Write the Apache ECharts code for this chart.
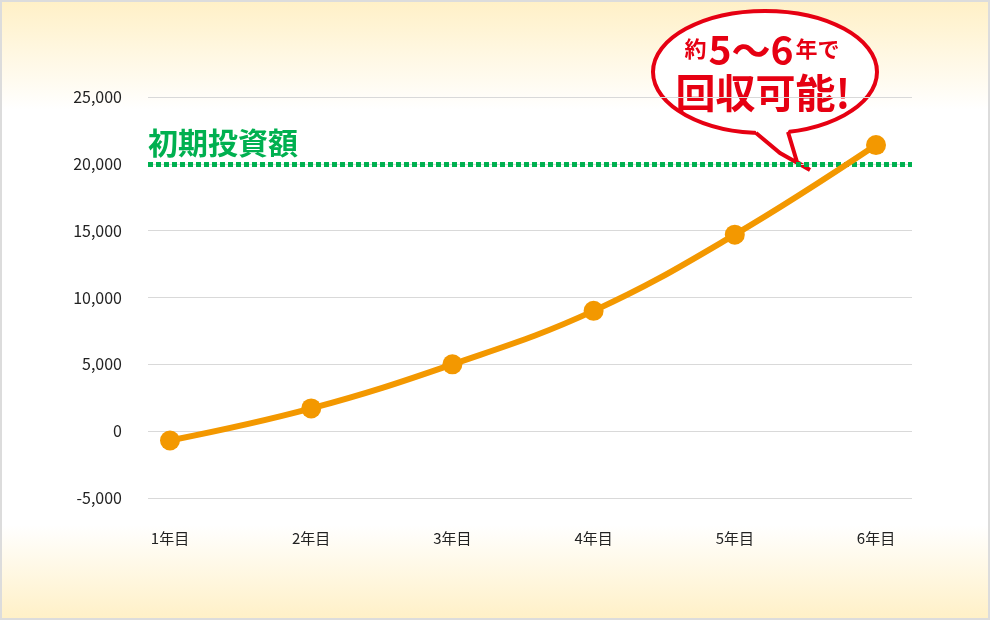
<!DOCTYPE html>
<html>
<head>
<meta charset="utf-8">
<script src="https://cdn.jsdelivr.net/npm/echarts@6/dist/echarts.min.js"></script>
<style>
  html, body { margin: 0; padding: 0; }
  #main {
    width: 990px; height: 620px;
    box-shadow: inset 0 0 0 2px #dcdcdc;
    background: linear-gradient(to bottom, #fff0c6 0px, #ffffff 110px, #ffffff 525px, #fff0c6 620px);
  }
</style>
</head>
<body>
<div id="main"></div>
<script>
// データ
const years = ['1年目', '2年目', '3年目', '4年目', '5年目', '6年目']
const profit = [-700, 1700, 5000, 9000, 14700, 21400]
const investment = 20000
const yTicks = { min: -5000, max: 25000, interval: 5000 }

const chart = echarts.init(document.getElementById('main'), null, { renderer: 'canvas' })

const font = '"Noto Sans CJK JP", "Noto Sans", sans-serif'
const red = '#e60012'

let option = {
  animation: false,
  textStyle: { fontFamily: font },
  grid: [
    // 目盛り線用
    { left: 148, right: 78, top: 97, bottom: 122 },
    // 折れ線用
    { left: 170, right: 114, top: 97, bottom: 122 }
  ],
  xAxis: [
    { gridIndex: 0, type: 'category', data: years, show: false },
    {
      gridIndex: 1, type: 'category', data: years, boundaryGap: false,
      axisLine: { show: false }, axisTick: { show: false },
      axisLabel: { color: '#222', fontSize: 15, margin: 33, fontFamily: font }
    }
  ],
  yAxis: [
    {
      gridIndex: 0, type: 'value', min: yTicks.min, max: yTicks.max, interval: yTicks.interval,
      axisLine: { show: false }, axisTick: { show: false },
      axisLabel: {
        color: '#222', fontSize: 16, margin: 26, fontFamily: font,
        formatter: v => v.toLocaleString('en-US')
      },
      splitLine: { lineStyle: { color: '#d9d9d9', width: 1 } }
    },
    {
      gridIndex: 1, type: 'value', min: yTicks.min, max: yTicks.max, interval: yTicks.interval,
      show: false, splitLine: { show: false }
    }
  ],
  series: [
    {
      // 初期投資額ライン
      type: 'line', xAxisIndex: 0, yAxisIndex: 0, data: [],
      markLine: {
        silent: true, symbol: ['none', 'none'],
        lineStyle: { color: '#00b050', width: 5, type: [5, 3], cap: 'butt' },
        label: {
          show: true, position: 'insideStartTop', distance: [0, 6],
          formatter: '初期投資額', color: '#00b050',
          fontSize: 30, fontWeight: 'bold', fontFamily: font
        },
        data: [{ yAxis: investment }]
      }
    },
    {
      name: '回収額', type: 'line', xAxisIndex: 1, yAxisIndex: 1,
      data: profit, smooth: 0.4,
      symbol: 'circle', symbolSize: 20,
      lineStyle: { color: '#f39800', width: 6 },
      itemStyle: { color: '#f39800' },
      z: 5
    }
  ],
  graphic: [
    {
      type: 'group', z: 1,
      children: [
        {
          type: 'ellipse',
          shape: { cx: 765, cy: 72, rx: 112, ry: 61 },
          style: { fill: '#fff', stroke: red, lineWidth: 4 }
        },
        {
          type: 'polygon',
          shape: { points: [[754, 128], [758, 135], [780, 153], [810, 170], [797, 162], [787, 133], [790, 128]] },
          style: { fill: '#fff' }
        },
        {
          type: 'polyline',
          shape: { points: [[756, 133], [780, 153], [810, 170], [797, 162], [788, 132]] },
          style: { fill: null, stroke: red, lineWidth: 4, lineJoin: 'miter' }
        },
        {
          type: 'text',
          style: {
            x: 762, y: 70, align: 'center', verticalAlign: 'bottom',
            text: '{a|約}{b|5〜6}{a|年で}',
            fill: red,
            rich: {
              a: { fontSize: 22, fontWeight: 'bold', fill: red, fontFamily: font, padding: [0, 2, 3, 2] },
              b: { fontSize: 39, fontWeight: 'bold', fill: red, fontFamily: font }
            }
          }
        },
        {
          type: 'text',
          style: {
            x: 763, y: 93, align: 'center', verticalAlign: 'middle',
            text: '回収可能!', fill: red,
            font: 'bold 40px "Noto Sans CJK JP", sans-serif'
          }
        }
      ]
    }
  ]
}

chart.setOption(option)
</script>
</body>
</html>
